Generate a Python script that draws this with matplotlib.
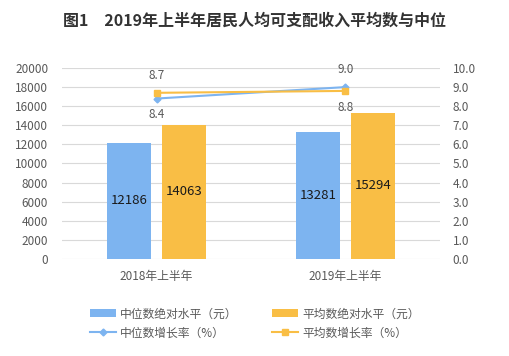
import matplotlib
matplotlib.use("Agg")
import matplotlib.pyplot as plt
import numpy as np

plt.rcParams['font.family'] = ['Noto Sans CJK SC', 'DejaVu Sans']

# data
kategorie = ["2018年上半年", "2019年上半年"]
median_uroven = [12186, 13281]
priemer_uroven = [14063, 15294]
median_rast = [8.4, 9.0]
priemer_rast = [8.7, 8.8]

modra = "#7db4f0"
oranzova = "#f9be45"
seda_text = "#595959"


def main():
    fig = plt.figure(figsize=(5.10, 3.56), dpi=100)
    ax = fig.add_axes([0.1216, 0.2725, 0.7411, 0.5365])
    ax2 = ax.twinx()

    x = np.arange(len(kategorie))
    sirka = 0.23
    b1 = ax.bar(x - 0.145, median_uroven, sirka, color=modra, zorder=2)
    b2 = ax.bar(x + 0.145, priemer_uroven, sirka, color=oranzova, zorder=2)

    for bars in (b1, b2):
        for b in bars:
            h = b.get_height()
            ax.text(b.get_x() + b.get_width() / 2, h / 2, f"{h:.0f}",
                    ha="center", va="center", fontsize=9.5, color="#1a1a1a")

    ax.set_xlim(-0.5, 1.5)
    ax.set_ylim(0, 20000)
    ax.set_yticks(np.arange(0, 20001, 2000))
    ax.set_xticks(x)
    ax.set_xticklabels(kategorie)
    ax.grid(axis="y", color="#d9d9d9", linewidth=0.8, zorder=0)
    ax.set_axisbelow(True)

    l1, = ax2.plot(x, median_rast, color=modra, marker="D", markersize=3.5,
                   linewidth=1.5)
    l2, = ax2.plot(x, priemer_rast, color=oranzova, marker="s", markersize=4.5,
                   linewidth=1.5)
    ax2.set_ylim(0, 10)
    ax2.set_yticks(np.arange(0, 10.01, 1))
    ax2.set_yticklabels([f"{v:.1f}" for v in np.arange(0, 10.01, 1)])

    # popisky rastu: vyssia hodnota nad, nizsia pod
    for i in range(len(x)):
        m, p = median_rast[i], priemer_rast[i]
        hore, dole = (m, p) if m > p else (p, m)
        ax2.annotate(f"{hore:.1f}", (x[i], hore), xytext=(0, 8), textcoords="offset points",
                     ha="center", va="bottom", fontsize=8.5, color=seda_text)
        ax2.annotate(f"{dole:.1f}", (x[i], dole), xytext=(0, -7), textcoords="offset points",
                     ha="center", va="top", fontsize=8.5, color=seda_text)

    for a in (ax, ax2):
        for s in a.spines.values():
            s.set_visible(False)
        a.tick_params(length=0, labelsize=8.5, colors=seda_text)
    ax.tick_params(axis="y", pad=10)
    ax2.tick_params(axis="y", pad=9)
    ax.tick_params(axis="x", pad=8)

    fig.text(0.5, 0.943, "图1　2019年上半年居民人均可支配收入平均数与中位",
             ha="center", va="center", fontsize=11.5, fontweight="bold", color="#333333")

    # poradie po stlpcoch: (b1, l1) a (b2, l2)
    leg = fig.legend([b1, l1, b2, l2],
                     ["中位数绝对水平（元）", "中位数增长率（%）", "平均数绝对水平（元）", "平均数增长率（%）"],
                     loc="upper left", bbox_to_anchor=(0.165, 0.153), ncol=2, frameon=False,
                     fontsize=8.5, columnspacing=3.0, handlelength=2.2, handletextpad=0.3,
                     labelspacing=0.5, borderpad=0)
    for t in leg.get_texts():
        t.set_color(seda_text)

    fig.savefig("out.png", dpi=100)


if __name__ == "__main__":
    main()
